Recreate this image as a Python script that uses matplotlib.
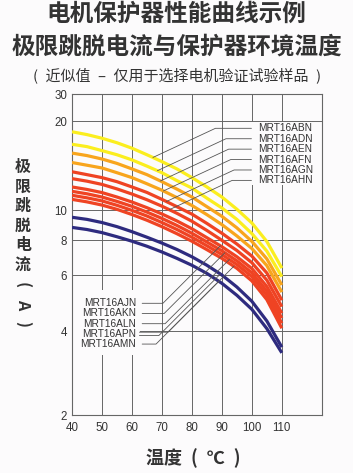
import numpy as np
import matplotlib
matplotlib.use('Agg')
import matplotlib.pyplot as plt
from matplotlib.patches import Rectangle

plt.rcParams['font.family'] = ['Liberation Sans', 'Noto Sans CJK SC', 'DejaVu Sans']
cjk = ['Noto Sans CJK SC', 'DejaVu Sans']

# temperature (deg C) and trip current (A)
temps = [40, 45, 50, 55, 60, 65, 70, 75, 80, 85, 90, 95, 100, 105, 110]
yellow_1 = [18.4, 18.0, 17.5, 16.9, 16.2, 15.4, 14.6, 13.8, 12.9, 12.0, 11.1, 10.1, 9.1, 7.9, 6.35]
yellow_2 = [16.7, 16.4, 15.9, 15.4, 14.8, 14.1, 13.4, 12.6, 11.9, 11.0, 10.2, 9.35, 8.4, 7.3, 5.93]
orange_1 = [15.6, 15.3, 14.9, 14.4, 13.8, 13.2, 12.5, 11.8, 11.1, 10.3, 9.57, 8.77, 7.91, 6.85, 5.58]
orange_2 = [14.5, 14.2, 13.9, 13.4, 12.9, 12.3, 11.7, 11.05, 10.4, 9.69, 8.99, 8.25, 7.46, 6.48, 5.3]
red_1 = [13.5, 13.2, 12.9, 12.5, 12.0, 11.5, 10.9, 10.3, 9.73, 9.07, 8.42, 7.74, 7.01, 6.1, 5.0]
red_2 = [12.8, 12.55, 12.24, 11.82, 11.36, 10.87, 10.34, 9.79, 9.22, 8.6, 7.98, 7.34, 6.64, 5.78, 4.77]
red_3 = [12.0, 11.77, 11.49, 11.1, 10.68, 10.22, 9.74, 9.24, 8.71, 8.14, 7.57, 6.97, 6.33, 5.52, 4.55]
red_4 = [11.6, 11.38, 11.1, 10.73, 10.33, 9.88, 9.42, 8.93, 8.42, 7.87, 7.32, 6.74, 6.11, 5.34, 4.39]
red_5 = [11.25, 11.03, 10.77, 10.41, 10.01, 9.59, 9.13, 8.66, 8.17, 7.63, 7.1, 6.54, 5.93, 5.18, 4.23]
red_6 = [10.9, 10.69, 10.43, 10.09, 9.7, 9.29, 8.85, 8.39, 7.92, 7.39, 6.88, 6.34, 5.75, 5.02, 4.08]
purple_1 = [9.5, 9.35, 9.13, 8.85, 8.52, 8.17, 7.8, 7.4, 6.97, 6.5, 6.0, 5.5, 4.96, 4.3, 3.5]
purple_2 = [8.8, 8.66, 8.46, 8.2, 7.92, 7.6, 7.25, 6.88, 6.5, 6.08, 5.65, 5.18, 4.68, 4.07, 3.34]

curves = [yellow_1, yellow_2, orange_1, orange_2, red_1, red_2,
          red_3, red_4, red_5, red_6, purple_1, purple_2]
colors = ['#fbee1f', '#fbee1f', '#f8a51d', '#f8a51d', '#ef4323', '#ef4323',
          '#ef4323', '#ef4323', '#ef4323', '#ef4323', '#2e2b7f', '#2e2b7f']

upper_labels = ['MRT16ABN', 'MRT16ADN', 'MRT16AEN', 'MRT16AFN', 'MRT16AGN', 'MRT16AHN']
upper_curve = [0, 1, 2, 3, 4, 5]
upper_at = [67, 68.5, 69.5, 70.5, 71.5, 72.5]

lower_labels = ['MRT16AJN', 'MRT16AKN', 'MRT16ALN', 'MRT16APN', 'MRT16AMN']
lower_curve = [6, 7, 8, 9, 11]
lower_at = [89.5, 91, 92.5, 94, 89]
# MRT16APN has a second leader, to the upper purple curve
apn_extra_curve = 10
apn_extra_at = 89.5

x_ticks = [40, 50, 60, 70, 80, 90, 100, 110]
y_ticks = [2, 4, 6, 8, 10, 20, 30]

# the printed y axis is not an even log scale: pixel height of each tick line
y_tick_px = [0, 84, 140, 175, 204.5, 294, 320.5]

lt = np.log10(y_ticks)
lt_ext = np.r_[lt[0] - 10, lt, lt[-1] + 10]
px_ext = np.r_[y_tick_px[0] - 10 * (y_tick_px[1] - y_tick_px[0]) / (lt[1] - lt[0]),
               y_tick_px,
               y_tick_px[-1] + 10 * (y_tick_px[-1] - y_tick_px[-2]) / (lt[-1] - lt[-2])]


def y_fwd(v):
    v = np.clip(np.asarray(v, dtype=float), 1e-9, None)
    return np.interp(np.log10(v), lt_ext, px_ext)


def y_inv(p):
    return 10 ** np.interp(np.asarray(p, dtype=float), px_ext, lt_ext)


bg = '#fcfbfc'
fig = plt.figure(figsize=(3.53, 4.73), dpi=100, facecolor=bg)
ax = fig.add_axes([72 / 353, 58 / 473, 249.7 / 353, 320.5 / 473], facecolor=bg)
ax.set_yscale('function', functions=(y_fwd, y_inv))
ax.set_xlim(40, 123.3)
ax.set_ylim(2, 30)
ax.set_xticks(x_ticks)
ax.set_yticks(y_ticks)
ax.set_yticklabels([str(t) for t in y_ticks])
ax.minorticks_off()
ax.tick_params(length=0, labelsize=8.3, colors='#333333')
ax.tick_params(axis='x', pad=5)
ax.tick_params(axis='y', pad=3.5)
ax.grid(True, color='#666666', lw=0.7, zorder=0.5)
ax.set_axisbelow(True)
for s in ax.spines.values():
    s.set_color('#666666')
    s.set_linewidth(0.8)

# blank blocks behind the label columns (they cut the grid lines)
ax.add_patch(Rectangle((0.713, 0.718), 0.26, 0.196, transform=ax.transAxes,
                       fc=bg, ec='none', zorder=1))
ax.add_patch(Rectangle((0.004, 0.187), 0.268, 0.203, transform=ax.transAxes,
                       fc=bg, ec='none', zorder=1))

for vals, c in zip(curves, colors):
    ax.plot(temps, vals, color=c, lw=2.3, solid_capstyle='butt', zorder=3)

lead = dict(arrowstyle='-', color='#555555', lw=0.6, shrinkB=0)
for i, lab in enumerate(upper_labels):
    k = upper_curve[i]
    t = upper_at[i]
    v = np.interp(t, temps, curves[k])
    ax.annotate(lab, xy=(t, v), xytext=(0.7437, 0.8945 - i * 0.0325),
                textcoords='axes fraction', ha='left', va='center',
                fontsize=7.3, color='#333333', zorder=5,
                arrowprops=dict(connectionstyle='angle,angleA=0,angleB=25',
                                shrinkA=2.5, **lead))

for i, lab in enumerate(lower_labels):
    k = lower_curve[i]
    t = lower_at[i]
    v = np.interp(t, temps, curves[k])
    ty = 0.3485 - i * 0.0318
    if lab == 'MRT16APN':
        ty_a = ty + 1.7 / 320.5
        ax.annotate('', xy=(apn_extra_at, np.interp(apn_extra_at, temps, curves[apn_extra_curve])),
                    xytext=(0.256 + 3.5 / 249.7, ty - 1.7 / 320.5), textcoords='axes fraction',
                    zorder=5,
                    arrowprops=dict(connectionstyle='angle,angleA=0,angleB=45',
                                    shrinkA=0, **lead))
        ax.text(0.256, ty, lab, transform=ax.transAxes, ha='right', va='center',
                fontsize=7.3, color='#333333', zorder=5)
        ax.annotate('', xy=(t, v), xytext=(0.256 + 3.5 / 249.7, ty_a),
                    textcoords='axes fraction', zorder=5,
                    arrowprops=dict(connectionstyle='angle,angleA=0,angleB=45',
                                    shrinkA=0, **lead))
        continue
    ax.annotate(lab, xy=(t, v), xytext=(0.256, ty),
                textcoords='axes fraction', ha='right', va='center',
                fontsize=7.3, color='#333333', zorder=5,
                arrowprops=dict(connectionstyle='angle,angleA=0,angleB=45',
                                shrinkA=2.5, **lead))

# titles
fig.text(0.5, 1 - 14 / 473, '电机保护器性能曲线示例', ha='center', va='center',
         fontsize=17, fontweight='bold', color='#333333', family=cjk)
fig.text(0.5, 1 - 47 / 473, '极限跳脱电流与保护器环境温度', ha='center', va='center',
         fontsize=17, fontweight='bold', color='#333333', family=cjk)
fig.text(0.502, 1 - 75 / 473, '(\u2002近似值\u2002–\u2002仅用于选择电机验证试验样品\u2002)',
         ha='center', va='center', fontsize=10.8, color='#333333', family=cjk)

# vertical y label, one character per line
ylab = ['极', '限', '跳', '脱', '电', '流', '(', 'A', ')']
for i, ch in enumerate(ylab):
    rot = -90 if i >= 6 else 0
    fig.text(23 / 353, 1 - (167 + i * 19.6) / 473, ch, ha='center', va='center',
             rotation=rot, fontsize=11.5, fontweight='bold', color='#333333', family=cjk)

fig.text(193.5 / 353, 1 - 458 / 473, '温度\u2002(\u2002℃\u2002)', ha='center', va='center',
         fontsize=13, fontweight='bold', color='#333333', family=cjk)

fig.savefig('out.png', dpi=100, facecolor=bg)
